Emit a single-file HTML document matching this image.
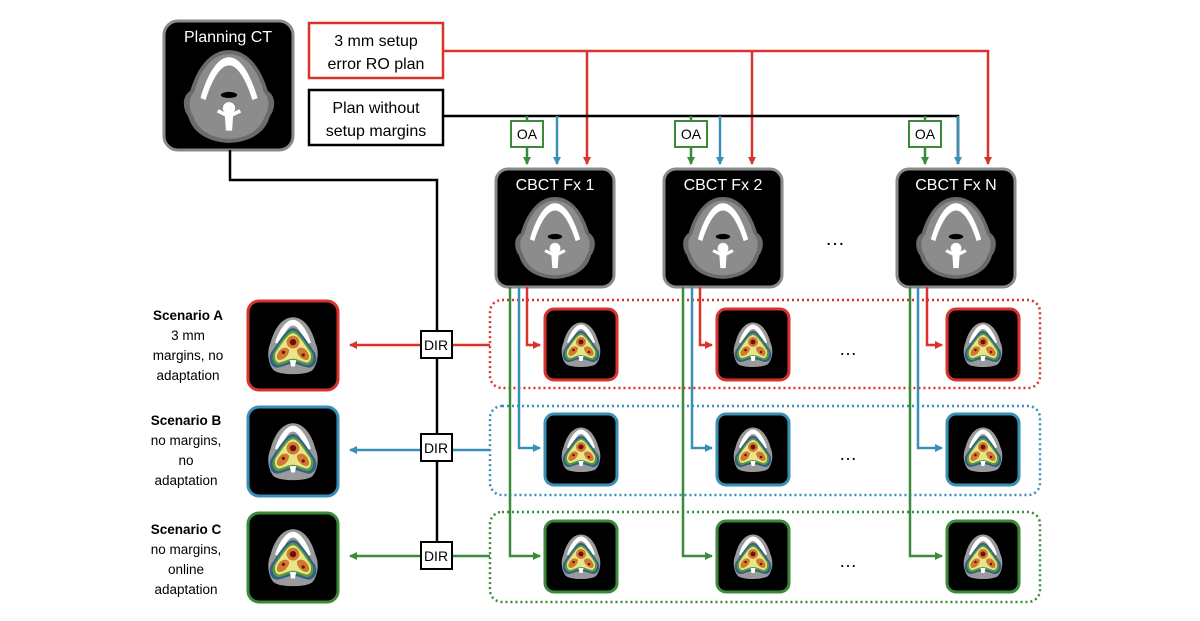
<!DOCTYPE html>
<html><head><meta charset="utf-8"><style>
html,body{margin:0;padding:0;background:#fff;}
svg{display:block;font-family:"Liberation Sans",sans-serif;}
</style></head><body>
<svg width="1200" height="621" viewBox="0 0 1200 621" xmlns="http://www.w3.org/2000/svg">
<defs>
<symbol id="head" viewBox="0 0 100 100">
<path d="M50 5 C70 5 82 25 88 45 C96 50 96 62 90 70 C86 85 72 95 50 96 C28 95 14 85 10 70 C4 62 4 50 12 45 C18 25 30 5 50 5Z" fill="#6b6b6b"/>
<path d="M50 9 C68 9 79 27 84 46 C90 52 90 62 85 70 C80 84 68 91 50 92 C32 91 20 84 15 70 C10 62 10 52 16 46 C21 27 32 9 50 9Z" fill="#8c8c8c"/>
<path d="M22 52 C30 25 40 12 50 12 C60 12 70 25 78 52 L73 54 C66 32 58 20 50 20 C42 20 34 32 27 54Z" fill="#fff"/>
<ellipse cx="50" cy="49" rx="8" ry="3" fill="#000"/>
<circle cx="50" cy="62" r="6" fill="#fff"/>
<path d="M38 66 L46 70 L47 84 L53 84 L54 70 L62 66 L60 63 L50 68 L40 63Z" fill="#fff"/>
</symbol>
<symbol id="dose" viewBox="0 0 100 100">
<path d="M50 5 C68 5 80 25 85 45 C92 60 88 80 80 88 C70 96 30 96 20 88 C12 80 8 60 15 45 C20 25 32 5 50 5Z" fill="#9a9a9a"/>
<path d="M50 9 C62 9 74 30 78 45 L70 48 C64 30 57 18 50 18 C43 18 36 30 30 48 L22 45 C26 30 38 9 50 9Z" fill="#fff"/>
<path d="M50 22 C60 22 70 40 84 60 C90 72 84 84 74 84 C64 82 58 78 50 78 C42 78 36 82 26 84 C16 84 10 72 16 60 C30 40 40 22 50 22Z" fill="#2f5f8a"/>
<path d="M50 26 C58 26 68 42 80 60 C85 70 80 80 72 80 C63 78 58 74 50 74 C42 74 37 78 28 80 C20 80 15 70 20 60 C32 42 42 26 50 26Z" fill="#5a9a3a"/>
<path d="M50 30 C57 30 66 44 77 60 C80 68 77 76 71 76 C63 74 57 70 50 70 C43 70 37 74 29 76 C23 76 20 68 23 60 C34 44 43 30 50 30Z" fill="#e8e48a"/>
<circle cx="50" cy="44" r="10" fill="#d07a30"/>
<path d="M26 62 C30 52 40 50 44 56 C44 64 36 72 28 72 C24 70 24 66 26 62Z" fill="#d07a30"/>
<path d="M74 62 C70 52 60 50 56 56 C56 64 64 72 72 72 C76 70 76 66 74 62Z" fill="#d07a30"/>
<circle cx="50" cy="44" r="5" fill="#6a1010"/>
<circle cx="35" cy="60" r="2.5" fill="#6a1010"/>
<circle cx="66" cy="64" r="2.5" fill="#6a1010"/>
<path d="M45 72 L55 72 L53 82 L47 82Z" fill="#fff"/>
</symbol>
<marker id="ar" markerWidth="8" markerHeight="8" refX="7" refY="4" orient="auto" markerUnits="userSpaceOnUse"><path d="M0 0 L8 4 L0 8Z" fill="#d9342b"/></marker>
<marker id="ab" markerWidth="8" markerHeight="8" refX="7" refY="4" orient="auto" markerUnits="userSpaceOnUse"><path d="M0 0 L8 4 L0 8Z" fill="#3a8fb7"/></marker>
<marker id="ag" markerWidth="8" markerHeight="8" refX="7" refY="4" orient="auto" markerUnits="userSpaceOnUse"><path d="M0 0 L8 4 L0 8Z" fill="#3a8a3a"/></marker>
</defs>

<!-- Planning CT -->
<rect x="164" y="21" width="129" height="129" rx="14" fill="#000" stroke="#8a8a8a" stroke-width="3"/>
<text x="228" y="42" fill="#fff" font-size="16" text-anchor="middle">Planning CT</text>
<use href="#head" x="178" y="44" width="102" height="104"/>
<polyline points="230,150 230,180 437,180 437,565" fill="none" stroke="#000" stroke-width="2.5"/>

<!-- plan boxes -->
<rect x="309" y="23" width="134" height="55" fill="#fff" stroke="#d9342b" stroke-width="2.5"/>
<text x="376" y="46" font-size="16" text-anchor="middle">3 mm setup</text>
<text x="376" y="69" font-size="16" text-anchor="middle">error RO plan</text>
<rect x="309" y="90" width="134" height="55" fill="#fff" stroke="#000" stroke-width="2.5"/>
<text x="376" y="113" font-size="16" text-anchor="middle">Plan without</text>
<text x="376" y="136" font-size="16" text-anchor="middle">setup margins</text>

<polyline points="443,51 988,51 988,164" fill="none" stroke="#d9342b" stroke-width="2.5" marker-end="url(#ar)"/>
<line x1="587" y1="51" x2="587" y2="164" stroke="#d9342b" stroke-width="2.5" marker-end="url(#ar)"/>
<line x1="752" y1="51" x2="752" y2="164" stroke="#d9342b" stroke-width="2.5" marker-end="url(#ar)"/>
<polyline points="443,116 958,116 958,164" fill="none" stroke="#000" stroke-width="2.5"/>

<g stroke-width="2.5" fill="none">
<line x1="557" y1="116" x2="557" y2="164" stroke="#3a8fb7" marker-end="url(#ab)"/>
<line x1="720" y1="116" x2="720" y2="164" stroke="#3a8fb7" marker-end="url(#ab)"/>
<line x1="958" y1="116" x2="958" y2="164" stroke="#3a8fb7" marker-end="url(#ab)"/>
<line x1="527" y1="116" x2="527" y2="164" stroke="#3a8a3a" marker-end="url(#ag)"/>
<line x1="691" y1="116" x2="691" y2="164" stroke="#3a8a3a" marker-end="url(#ag)"/>
<line x1="925" y1="116" x2="925" y2="164" stroke="#3a8a3a" marker-end="url(#ag)"/>
</g>
<g font-size="14" text-anchor="middle">
<rect x="511" y="121" width="32" height="26" fill="#fff" stroke="#3a8a3a" stroke-width="2"/><text x="527" y="139">OA</text>
<rect x="675" y="121" width="32" height="26" fill="#fff" stroke="#3a8a3a" stroke-width="2"/><text x="691" y="139">OA</text>
<rect x="909" y="121" width="32" height="26" fill="#fff" stroke="#3a8a3a" stroke-width="2"/><text x="925" y="139">OA</text>
</g>

<!-- CBCT boxes -->
<g font-size="16" fill="#fff" text-anchor="middle">
<rect x="496" y="169" width="118" height="118" rx="12" fill="#000" stroke="#8a8a8a" stroke-width="3"/>
<text x="555" y="190">CBCT Fx 1</text>
<use href="#head" x="510" y="191" width="90" height="93"/>
<rect x="664" y="169" width="118" height="118" rx="12" fill="#000" stroke="#8a8a8a" stroke-width="3"/>
<text x="723" y="190">CBCT Fx 2</text>
<use href="#head" x="678" y="191" width="90" height="93"/>
<rect x="897" y="169" width="118" height="118" rx="12" fill="#000" stroke="#8a8a8a" stroke-width="3"/>
<text x="956" y="190">CBCT Fx N</text>
<use href="#head" x="911" y="191" width="90" height="93"/>
</g>
<text x="835" y="245" font-size="20" text-anchor="middle">…</text>

<!-- dotted boxes -->
<rect x="490" y="300" width="550" height="88" rx="12" fill="none" stroke="#d9342b" stroke-width="2.5" stroke-dasharray="2 3"/>
<rect x="490" y="406" width="550" height="89" rx="12" fill="none" stroke="#3a8fb7" stroke-width="2.5" stroke-dasharray="2 3"/>
<rect x="490" y="512" width="550" height="90" rx="12" fill="none" stroke="#3a8a3a" stroke-width="2.5" stroke-dasharray="2 3"/>

<!-- vertical lines from CBCT -->
<g fill="none" stroke-width="2.5">
<polyline points="527,287 527,345 540,345" stroke="#d9342b" marker-end="url(#ar)"/>
<polyline points="519,287 519,448 540,448" stroke="#3a8fb7" marker-end="url(#ab)"/>
<polyline points="510,287 510,556 540,556" stroke="#3a8a3a" marker-end="url(#ag)"/>
<polyline points="700,287 700,345 712,345" stroke="#d9342b" marker-end="url(#ar)"/>
<polyline points="692,287 692,448 712,448" stroke="#3a8fb7" marker-end="url(#ab)"/>
<polyline points="683,287 683,556 712,556" stroke="#3a8a3a" marker-end="url(#ag)"/>
<polyline points="927,287 927,345 942,345" stroke="#d9342b" marker-end="url(#ar)"/>
<polyline points="918,287 918,448 942,448" stroke="#3a8fb7" marker-end="url(#ab)"/>
<polyline points="910,287 910,556 942,556" stroke="#3a8a3a" marker-end="url(#ag)"/>
</g>

<!-- small dose images -->
<g stroke-width="3">
<rect x="545" y="309" width="72" height="71" rx="9" fill="#000" stroke="#d9342b"/>
<rect x="717" y="309" width="72" height="71" rx="9" fill="#000" stroke="#d9342b"/>
<rect x="947" y="309" width="72" height="71" rx="9" fill="#000" stroke="#d9342b"/>
<rect x="545" y="414" width="72" height="71" rx="9" fill="#000" stroke="#3a8fb7"/>
<rect x="717" y="414" width="72" height="71" rx="9" fill="#000" stroke="#3a8fb7"/>
<rect x="947" y="414" width="72" height="71" rx="9" fill="#000" stroke="#3a8fb7"/>
<rect x="545" y="521" width="72" height="71" rx="9" fill="#000" stroke="#3a8a3a"/>
<rect x="717" y="521" width="72" height="71" rx="9" fill="#000" stroke="#3a8a3a"/>
<rect x="947" y="521" width="72" height="71" rx="9" fill="#000" stroke="#3a8a3a"/>
</g>
<use href="#dose" x="556" y="316" width="50" height="58"/>
<use href="#dose" x="728" y="316" width="50" height="58"/>
<use href="#dose" x="958" y="316" width="50" height="58"/>
<use href="#dose" x="556" y="421" width="50" height="58"/>
<use href="#dose" x="728" y="421" width="50" height="58"/>
<use href="#dose" x="958" y="421" width="50" height="58"/>
<use href="#dose" x="556" y="528" width="50" height="58"/>
<use href="#dose" x="728" y="528" width="50" height="58"/>
<use href="#dose" x="958" y="528" width="50" height="58"/>
<g font-size="18" text-anchor="middle"><text x="848" y="355">…</text><text x="848" y="460">…</text><text x="848" y="567">…</text></g>

<!-- DIR arrows -->
<g stroke-width="2.5" fill="none">
<line x1="490" y1="345" x2="350" y2="345" stroke="#d9342b" marker-end="url(#ar)"/>
<line x1="490" y1="450" x2="350" y2="450" stroke="#3a8fb7" marker-end="url(#ab)"/>
<line x1="490" y1="556" x2="350" y2="556" stroke="#3a8a3a" marker-end="url(#ag)"/>
</g>
<g font-size="14" text-anchor="middle">
<rect x="421" y="331" width="31" height="27" fill="#fff" stroke="#000" stroke-width="2"/><text x="436" y="350">DIR</text>
<rect x="421" y="434" width="31" height="27" fill="#fff" stroke="#000" stroke-width="2"/><text x="436" y="453">DIR</text>
<rect x="421" y="542" width="31" height="27" fill="#fff" stroke="#000" stroke-width="2"/><text x="436" y="561">DIR</text>
</g>

<!-- Scenario images -->
<rect x="248" y="301" width="90" height="89" rx="11" fill="#000" stroke="#d9342b" stroke-width="3"/>
<rect x="248" y="407" width="90" height="89" rx="11" fill="#000" stroke="#3a8fb7" stroke-width="3"/>
<rect x="248" y="513" width="90" height="89" rx="11" fill="#000" stroke="#3a8a3a" stroke-width="3"/>
<use href="#dose" x="261" y="311" width="64" height="70"/>
<use href="#dose" x="261" y="417" width="64" height="70"/>
<use href="#dose" x="261" y="523" width="64" height="70"/>

<g font-size="13.5" text-anchor="middle">
<text x="188" y="320" font-weight="bold">Scenario A</text>
<text x="188" y="340">3 mm</text>
<text x="188" y="360">margins, no</text>
<text x="188" y="380">adaptation</text>
<text x="186" y="425" font-weight="bold">Scenario B</text>
<text x="186" y="445">no margins,</text>
<text x="186" y="465">no</text>
<text x="186" y="485">adaptation</text>
<text x="186" y="534" font-weight="bold">Scenario C</text>
<text x="186" y="554">no margins,</text>
<text x="186" y="574">online</text>
<text x="186" y="594">adaptation</text>
</g>
</svg>
</body></html>
